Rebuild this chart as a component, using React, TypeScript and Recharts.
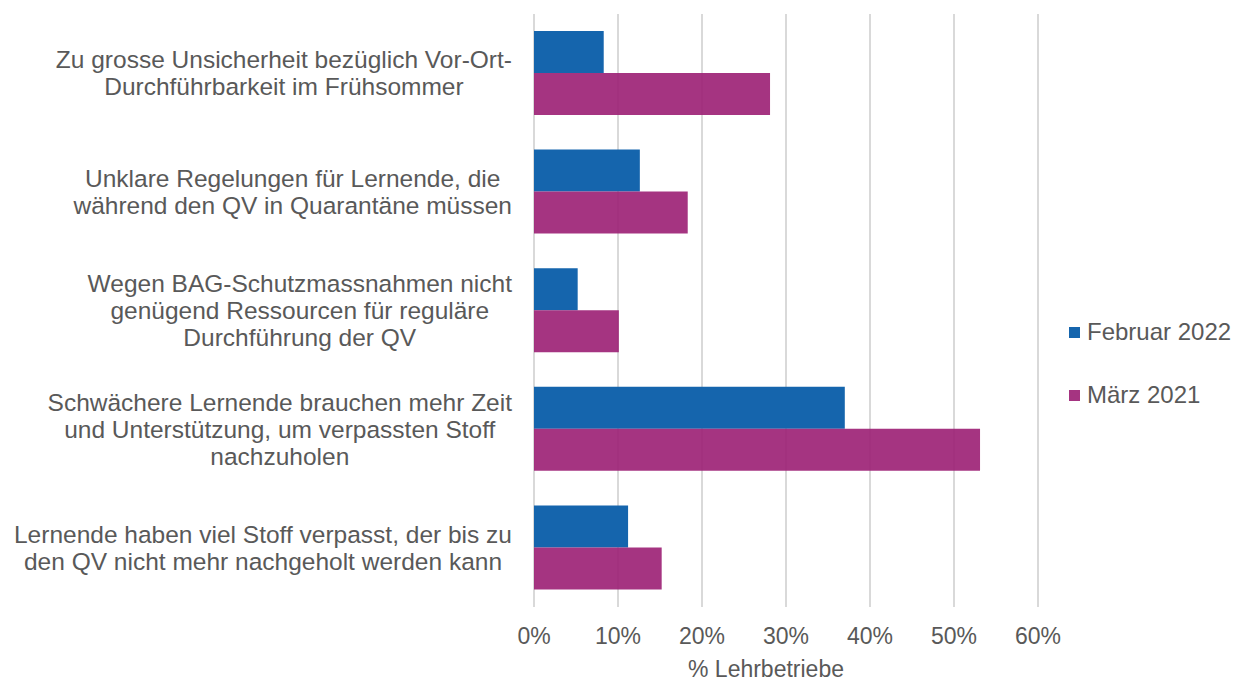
import { BarChart, Bar, XAxis, YAxis, CartesianGrid } from 'recharts';

const categories = [
  'Zu grosse Unsicherheit bezüglich Vor-Ort-\nDurchführbarkeit im Frühsommer',
  'Unklare Regelungen für Lernende, die\nwährend den QV in Quarantäne müssen',
  'Wegen BAG-Schutzmassnahmen nicht\ngenügend Ressourcen für reguläre\nDurchführung der QV',
  'Schwächere Lernende brauchen mehr Zeit\nund Unterstützung, um verpassten Stoff\nnachzuholen',
  'Lernende haben viel Stoff verpasst, der bis zu\nden QV nicht mehr nachgeholt werden kann',
];
const feb2022 = [8.3, 12.6, 5.2, 37.0, 11.2];
const maerz2021 = [28.1, 18.3, 10.1, 53.1, 15.2];
const xTicks = [0, 10, 20, 30, 40, 50, 60];

const FONT = '"Liberation Sans", Arial, sans-serif';
const TEXT = '#595959';
const BLUE = '#1565ad';
const MAGENTA = '#9b1e73';
const CAT_SIZE = 24.5;

const data = categories.map((name, i) => ({
  name,
  feb: feb2022[i],
  maerz: maerz2021[i],
}));

let ctx: CanvasRenderingContext2D | null = null;
function measure(s: string) {
  if (!ctx) ctx = document.createElement('canvas').getContext('2d');
  if (!ctx) return s.length * 11;
  ctx.font = `${CAT_SIZE}px ${FONT}`;
  return ctx.measureText(s).width;
}

function CategoryTick(props: any) {
  const { x, y, payload } = props;
  const lines: string[] = String(payload.value).split('\n');
  const maxW = Math.max(...lines.map(measure));
  const cx = x - maxW / 2;
  const lh = 27;
  const start = y - ((lines.length - 1) * lh) / 2;
  return (
    <text textAnchor="middle" fill={TEXT} fontSize={CAT_SIZE} fontFamily={FONT}>
      {lines.map((l, i) => (
        <tspan key={i} x={cx} y={start + i * lh} dy="0.35em">
          {l}
        </tspan>
      ))}
    </text>
  );
}

function LegendBox() {
  const items = [
    { label: 'Februar 2022', color: BLUE },
    { label: 'März 2021', color: MAGENTA, opacity: 0.9 },
  ];
  return (
    <div style={{ position: 'absolute', left: 1069, top: 318, fontFamily: FONT, fontSize: 24, color: TEXT }}>
      {items.map((it, i) => (
        <div key={i} style={{ display: 'flex', alignItems: 'center', height: 28, marginBottom: i === 0 ? 35 : 0 }}>
          <span style={{ display: 'inline-block', width: 11, height: 11, background: it.color, opacity: it.opacity ?? 1, marginRight: 7 }} />
          <span style={{ whiteSpace: 'nowrap' }}>{it.label}</span>
        </div>
      ))}
    </div>
  );
}

export default function App() {
  return (
    <div style={{ position: 'absolute', left: 0, top: 0, width: 1235, height: 682, background: '#fff' }}>
      <BarChart
        width={1235}
        height={682}
        data={data}
        layout="vertical"
        margin={{ top: 14, right: 197, left: 0, bottom: 0 }}
        barCategoryGap={17}
        barGap={0}
      >
        <CartesianGrid horizontal={false} stroke="#d9d9d9" strokeWidth={2} />
        <XAxis
          type="number"
          domain={[0, 60]}
          ticks={xTicks}
          tickFormatter={(v) => `${v}%`}
          axisLine={false}
          tickLine={false}
          tickSize={0}
          tickMargin={21}
          height={75}
          tick={{ fill: TEXT, fontSize: 23, fontFamily: FONT }}
          label={{ value: '% Lehrbetriebe', position: 'insideBottom', offset: 5, dx: -20, fill: TEXT, fontSize: 23, fontFamily: FONT }}
        />
        <YAxis
          type="category"
          dataKey="name"
          width={534}
          axisLine={false}
          tickLine={false}
          tickSize={0}
          tickMargin={22}
          interval={0}
          tick={<CategoryTick />}
        />
        <Bar dataKey="feb" name="Februar 2022" fill={BLUE} isAnimationActive={false} />
        <Bar dataKey="maerz" name="März 2021" fill={MAGENTA} fillOpacity={0.9} isAnimationActive={false} />
      </BarChart>
      <LegendBox />
    </div>
  );
}
